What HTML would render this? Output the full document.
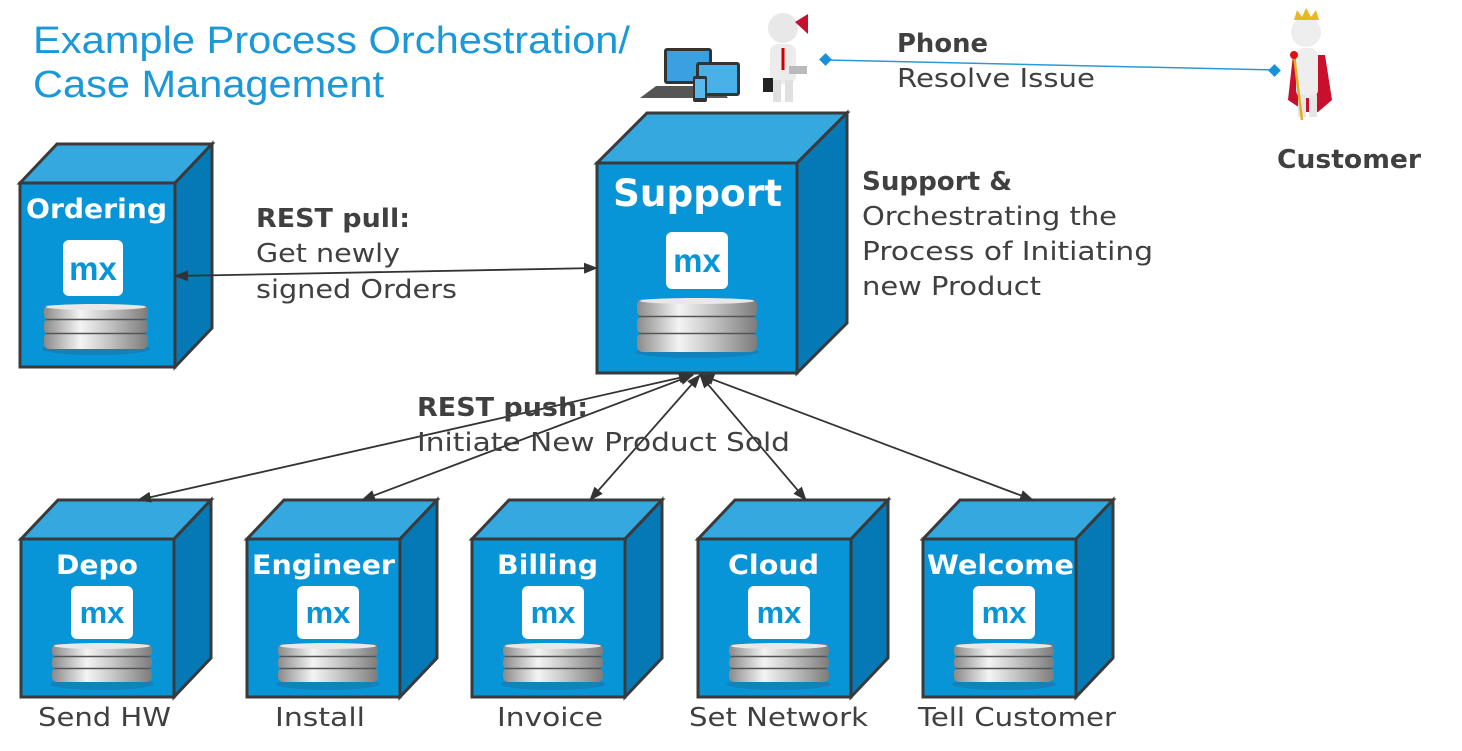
<!DOCTYPE html>
<html><head><meta charset="utf-8"><style>
html,body{margin:0;padding:0;background:#fff}
svg{display:block}
text{font-family:"Liberation Sans","DejaVu Sans",sans-serif}
.lbl{font-family:"DejaVu Sans","Liberation Sans",sans-serif;font-size:26px;fill:#404040}
.b{font-weight:bold}
.t{font-family:"DejaVu Sans","Liberation Sans",sans-serif;font-weight:bold;fill:#fff}
</style></head><body>
<svg width="1462" height="751" viewBox="0 0 1462 751" xmlns="http://www.w3.org/2000/svg">
<defs>
<linearGradient id="disk" x1="0" x2="1">
<stop offset="0" stop-color="#8a8a8a"/><stop offset="0.35" stop-color="#f4f4f4"/><stop offset="0.6" stop-color="#c9c9c9"/><stop offset="1" stop-color="#7c7c7c"/>
</linearGradient>
<marker id="ah" markerWidth="14" markerHeight="11" refX="13" refY="5.5" orient="auto-start-reverse" markerUnits="userSpaceOnUse">
<path d="M0,0 L14,5.5 L0,11 z" fill="#333"/></marker>
</defs>

<text x="33" y="53" font-size="38" fill="#1a98d8" textLength="597" lengthAdjust="spacingAndGlyphs">Example Process Orchestration/</text>
<text x="33" y="97" font-size="38" fill="#1a98d8" textLength="351" lengthAdjust="spacingAndGlyphs">Case Management</text>

<g stroke="#3a3a3a" stroke-width="3" stroke-linejoin="miter">
<polygon points="20,183 57,144 212,144 175,183" fill="#35a8e0"/>
<polygon points="175,183 212,144 212,328 175,367" fill="#0579b5"/>
<rect x="20" y="183" width="155" height="184" fill="#0795d8"/>
<polygon points="597,163 647,113 847,113 797,163" fill="#35a8e0"/>
<polygon points="797,163 847,113 847,323 797,373" fill="#0579b5"/>
<rect x="597" y="163" width="200" height="210" fill="#0795d8"/>
</g>
<g stroke="#3a3a3a" stroke-width="3">
<g id="c1">
<polygon points="21,539 58,500 211,500 174,539" fill="#35a8e0"/>
<polygon points="174,539 211,500 211,658 174,697" fill="#0579b5"/>
<rect x="21" y="539" width="153" height="158" fill="#0795d8"/>
</g>
<use href="#c1" x="226"/>
<use href="#c1" x="451"/>
<use href="#c1" x="677"/>
<use href="#c1" x="902"/>
</g>

<text class="t" x="26" y="218" font-size="27" textLength="141" lengthAdjust="spacingAndGlyphs">Ordering</text>
<text class="t" x="613" y="206" font-size="37" textLength="169" lengthAdjust="spacingAndGlyphs">Support</text>
<text class="t" x="56" y="574" font-size="27" textLength="82" lengthAdjust="spacingAndGlyphs">Depo</text>
<text class="t" x="252" y="574" font-size="27" textLength="143" lengthAdjust="spacingAndGlyphs">Engineer</text>
<text class="t" x="497" y="574" font-size="27" textLength="101" lengthAdjust="spacingAndGlyphs">Billing</text>
<text class="t" x="728" y="574" font-size="27" textLength="91" lengthAdjust="spacingAndGlyphs">Cloud</text>
<text class="t" x="927" y="574" font-size="27" textLength="147" lengthAdjust="spacingAndGlyphs">Welcome</text>

<g id="m1">
<rect x="71" y="586" width="62" height="53" rx="6" fill="#fff"/>
<text x="102" y="623" font-size="31" font-weight="bold" fill="#0795d8" text-anchor="middle" font-family="Liberation Sans">mx</text>
<ellipse cx="102" cy="684" rx="52" ry="6" fill="#1b6fa0" opacity="0.5"/>
<rect x="52" y="668" width="100" height="14" rx="5" fill="url(#disk)"/>
<rect x="52" y="656" width="100" height="13" rx="5" fill="url(#disk)"/>
<rect x="52" y="644" width="100" height="13" rx="5" fill="url(#disk)"/>
<line x1="54" y1="656.5" x2="150" y2="656.5" stroke="#555" stroke-width="1.5"/>
<line x1="54" y1="668.5" x2="150" y2="668.5" stroke="#555" stroke-width="1.5"/>
<ellipse cx="102" cy="646" rx="48" ry="3" fill="#e8e8e8"/>
</g>
<use href="#m1" x="226"/>
<use href="#m1" x="451"/>
<use href="#m1" x="677"/>
<use href="#m1" x="902"/>
<g transform="translate(96,0)">
<rect x="-33" y="240" width="60" height="56" rx="6" fill="#fff"/>
<text x="-3" y="280" font-size="33" font-weight="bold" fill="#0795d8" text-anchor="middle" font-family="Liberation Sans">mx</text>
<ellipse cx="0" cy="349" rx="54" ry="6" fill="#1b6fa0" opacity="0.5"/>
<rect x="-52" y="333" width="104" height="16" rx="5" fill="url(#disk)"/>
<rect x="-52" y="319" width="104" height="15" rx="5" fill="url(#disk)"/>
<rect x="-52" y="305" width="104" height="15" rx="5" fill="url(#disk)"/>
<line x1="-50" y1="319.5" x2="50" y2="319.5" stroke="#555" stroke-width="1.5"/>
<line x1="-50" y1="333.5" x2="50" y2="333.5" stroke="#555" stroke-width="1.5"/>
<ellipse cx="0" cy="307" rx="50" ry="3" fill="#e8e8e8"/>
</g>
<g transform="translate(697,0)">
<rect x="-31" y="232" width="62" height="57" rx="6" fill="#fff"/>
<text x="0" y="272" font-size="33" font-weight="bold" fill="#0795d8" text-anchor="middle" font-family="Liberation Sans">mx</text>
<ellipse cx="0" cy="352" rx="62" ry="6" fill="#1b6fa0" opacity="0.5"/>
<rect x="-60" y="333" width="120" height="19" rx="6" fill="url(#disk)"/>
<rect x="-60" y="316" width="120" height="18" rx="6" fill="url(#disk)"/>
<rect x="-60" y="299" width="120" height="18" rx="6" fill="url(#disk)"/>
<line x1="-58" y1="316.5" x2="58" y2="316.5" stroke="#555" stroke-width="1.5"/>
<line x1="-58" y1="333.5" x2="58" y2="333.5" stroke="#555" stroke-width="1.5"/>
<ellipse cx="0" cy="301" rx="57" ry="3" fill="#e8e8e8"/>
</g>

<g stroke="#333" stroke-width="1.8" fill="none">
<line x1="175" y1="276" x2="597" y2="268" marker-start="url(#ah)" marker-end="url(#ah)"/>
<line x1="692" y1="375" x2="138" y2="500" marker-start="url(#ah)" marker-end="url(#ah)"/>
<line x1="693" y1="375" x2="362" y2="500" marker-start="url(#ah)" marker-end="url(#ah)"/>
<line x1="700" y1="375" x2="590" y2="500" marker-start="url(#ah)" marker-end="url(#ah)"/>
<line x1="700" y1="375" x2="806" y2="500" marker-start="url(#ah)" marker-end="url(#ah)"/>
<line x1="701" y1="375" x2="1033" y2="500" marker-start="url(#ah)" marker-end="url(#ah)"/>
</g>
<line x1="826" y1="60" x2="1275" y2="70" stroke="#2a9ad6" stroke-width="1.5"/>
<rect x="821" y="55" width="9" height="9" fill="#1a90d8" transform="rotate(45 825.5 59.5)"/>
<rect x="1270" y="66" width="9" height="9" fill="#1a90d8" transform="rotate(45 1274.5 70.5)"/>

<text class="lbl b" x="256" y="227" textLength="154" lengthAdjust="spacingAndGlyphs">REST pull:</text>
<text class="lbl" x="256" y="262" textLength="144" lengthAdjust="spacingAndGlyphs">Get newly</text>
<text class="lbl" x="256" y="298" textLength="201" lengthAdjust="spacingAndGlyphs">signed Orders</text>
<text class="lbl b" x="417" y="416" textLength="171" lengthAdjust="spacingAndGlyphs">REST push:</text>
<text class="lbl" x="417" y="451" textLength="373" lengthAdjust="spacingAndGlyphs">Initiate New Product Sold</text>
<text class="lbl b" x="862" y="190" textLength="150" lengthAdjust="spacingAndGlyphs">Support &amp;</text>
<text class="lbl" x="862" y="225" textLength="255" lengthAdjust="spacingAndGlyphs">Orchestrating the</text>
<text class="lbl" x="862" y="260" textLength="291" lengthAdjust="spacingAndGlyphs">Process of Initiating</text>
<text class="lbl" x="862" y="295" textLength="179" lengthAdjust="spacingAndGlyphs">new Product</text>
<text class="lbl b" x="897" y="52" textLength="91" lengthAdjust="spacingAndGlyphs">Phone</text>
<text class="lbl" x="897" y="87" textLength="198" lengthAdjust="spacingAndGlyphs">Resolve Issue</text>
<text class="lbl b" x="1277" y="168" textLength="144" lengthAdjust="spacingAndGlyphs">Customer</text>
<text class="lbl" x="38" y="726" textLength="133" lengthAdjust="spacingAndGlyphs">Send HW</text>
<text class="lbl" x="275" y="726" textLength="90" lengthAdjust="spacingAndGlyphs">Install</text>
<text class="lbl" x="497" y="726" textLength="106" lengthAdjust="spacingAndGlyphs">Invoice</text>
<text class="lbl" x="689" y="726" textLength="179" lengthAdjust="spacingAndGlyphs">Set Network</text>
<text class="lbl" x="918" y="726" textLength="198" lengthAdjust="spacingAndGlyphs">Tell Customer</text>

<g>
<rect x="664" y="48" width="48" height="36" rx="3" fill="#333"/>
<rect x="667" y="51" width="42" height="30" fill="#3aa0e0"/>
<polygon points="656,86 720,86 728,98 640,98" fill="#555"/>
<rect x="696" y="62" width="44" height="34" rx="3" fill="#333"/>
<rect x="699" y="65" width="38" height="28" fill="#4ab0e8"/>
<rect x="693" y="76" width="14" height="26" rx="2" fill="#333"/>
<rect x="695" y="79" width="10" height="19" fill="#5ab8ee"/>
</g>
<g>
<circle cx="783" cy="28" r="15" fill="#e8e8e8"/>
<rect x="770" y="44" width="26" height="40" rx="8" fill="#ececec"/>
<rect x="773" y="80" width="8" height="22" fill="#e0e0e0"/>
<rect x="785" y="80" width="8" height="22" fill="#e0e0e0"/>
<line x1="783" y1="48" x2="783" y2="70" stroke="#c00" stroke-width="3"/>
<polygon points="795,22 808,14 808,34" fill="#c8102e"/>
<rect x="763" y="78" width="10" height="14" fill="#222"/>
<rect x="789" y="66" width="18" height="8" fill="#bbb"/>
</g>
<g>
<polygon points="1293,55 1288,100 1306,112 1318,112 1332,100 1325,55" fill="#c8102e"/>
<circle cx="1306" cy="32" r="15" fill="#eee"/>
<polygon points="1294,20 1297,10 1302,17 1306,8 1311,17 1316,10 1319,20" fill="#e8b820"/>
<rect x="1296" y="48" width="22" height="50" rx="8" fill="#eee"/>
<rect x="1298" y="95" width="8" height="22" fill="#e6e6e6"/>
<rect x="1309" y="95" width="8" height="22" fill="#e6e6e6"/>
<line x1="1294" y1="55" x2="1302" y2="120" stroke="#e0b020" stroke-width="2.5"/>
<circle cx="1294" cy="55" r="4" fill="#d11"/>
</g>
</svg>
</body></html>
